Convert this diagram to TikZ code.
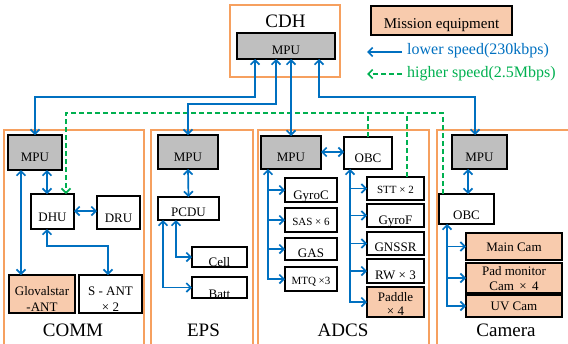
\documentclass[tikz,border=0pt]{standalone}
\usepackage{fontspec}
\setmainfont{Liberation Serif}
\usetikzlibrary{arrows.meta,fit}
\definecolor{busblue}{RGB}{0,112,192}
\definecolor{linkgreen}{RGB}{0,176,80}
\definecolor{frameorange}{RGB}{246,160,95}
\definecolor{peach}{RGB}{248,203,173}
\definecolor{mpugray}{RGB}{191,191,191}
% put the baseline of #2 at #1 below the node centre
\newcommand\lowered[2]{\raisebox{-#1}[0pt][0pt]{#2}}
\newcommand\twolines[2]{\begin{tabular}[b]{@{}c@{}}#1\\#2\end{tabular}}
\begin{document}
\begin{tikzpicture}[x=1pt,y=-1pt,
  >={Straight Barb[length=4.5pt,width=9pt]},
  unit/.style={draw=black, line width=1.4pt, inner sep=0pt, outer sep=0pt,
    fill=white, font=\fontsize{13}{15.7}\selectfont},
  mpu/.style={unit, fill=mpugray},
  payload/.style={unit, fill=peach},
  smalltext/.style={font=\fontsize{11}{13}\selectfont},
  frame/.style={draw=frameorange, line width=1.5pt},
  title/.style={anchor=base, inner sep=0pt, font=\fontsize{19}{22}\selectfont},
  bus/.style={draw=busblue, line width=1.7pt},
  fast/.style={draw=linkgreen, line width=1.7pt, dash pattern=on 5pt off 3pt}]
\useasboundingbox (0,0) rectangle (568,343);

% subsystem frames
\draw[frame] (230,5) rectangle (340,77);
\draw[frame] (4,346) |- (144,130) -- (144,346);
\draw[frame] (151,346) |- (253,130) -- (253,346);
\draw[frame] (258,346) |- (429,130) -- (429,346);
\draw[frame] (437,346) |- (574,130);

\node[title] (cdh) at (285.5,27) {CDH};
\node[title] (comm) at (73,336.5) {COMM};
\node[title] (eps) at (203.5,336.5) {EPS};
\node[title] (adcs) at (343,336.5) {ADCS};
\node[title] (camera) at (506,336.5) {Camera};

% CDH
\node[mpu, fit={(237,33) (335,59)}] (cdhmpu) {\lowered{8pt}{MPU}};

% COMM
\node[mpu, fit={(8,135) (62,170)}] (commmpu) {\lowered{8.5pt}{MPU}};
\node[unit, fit={(31,194) (74,229)}] (dhu) {\lowered{10pt}{DHU}};
\node[unit, fit={(97,196) (140,229)}] (dru) {\lowered{10pt}{DRU}};
\node[payload, fit={(9,275) (75,313)}] (glova) {\lowered{17.5pt}{\twolines{Glovalstar}{-ANT}}};
\node[unit, fit={(79,275) (142,313)}] (sant) {\lowered{17pt}{\twolines{S - ANT}{×\ 2}}};

% EPS
\node[mpu, fit={(158,135) (218,169)}] (epsmpu) {\lowered{9.5pt}{MPU}};
\node[unit, fit={(158,197) (219,220)}] (pcdu) {\lowered{8pt}{PCDU}};
\node[unit, fit={(192,247) (247,267)}] (cell) {\lowered{9.5pt}{Cell}};
\node[unit, fit={(192,277) (247,298)}] (batt) {\lowered{10.5pt}{Batt}};

% ADCS
\node[mpu, fit={(261,136) (321,169)}] (adcsmpu) {\lowered{9pt}{MPU}};
\node[unit, fit={(344,137) (392,169)}] (adcsobc) {\lowered{9.5pt}{OBC}};
\node[unit, fit={(285,178) (337,202)}] (gyroc) {\lowered{9pt}{GyroC}};
\node[unit, smalltext, fit={(285,208) (337,232)}] (sas) {\lowered{5pt}{SAS × 6}};
\node[unit, fit={(285,238) (337,260)}] (gas) {\lowered{8pt}{GAS}};
\node[unit, smalltext, fit={(285,267) (337,291)}] (mtq) {\lowered{5pt}{MTQ ×3}};
\node[unit, smalltext, fit={(367,177) (424,200)}] (stt) {\lowered{4.5pt}{STT × 2}};
\node[unit, fit={(367,204) (424,227)}] (gyrof) {\lowered{8.5pt}{GyroF}};
\node[unit, fit={(367,232) (424,255)}] (gnssr) {\lowered{8pt}{GNSSR}};
\node[unit, fit={(367,259) (424,283)}] (rw) {\lowered{8pt}{RW × 3}};
\node[payload, font=\fontsize{13}{13.3}\selectfont, fit={(367,287) (424,317)}] (paddle) {\lowered{13pt}{\twolines{Paddle}{× 4}}};

% Camera
\node[mpu, fit={(452,135) (507,169)}] (cammpu) {\lowered{9pt}{MPU}};
\node[unit, fit={(439,194) (494,224)}] (camobc) {\lowered{10pt}{OBC}};
\node[payload, fit={(466,233) (562,260)}] (maincam) {\lowered{5pt}{Main Cam}};
\node[payload, fit={(466,263) (562,293)}] (padcam) {\lowered{12.7pt}{\twolines{Pad monitor}{Cam \,× \,4}}};
\node[payload, fit={(466,295) (562,317)}] (uvcam) {\lowered{4pt}{UV Cam}};

% legend
\node[payload, font=\fontsize{15}{18}\selectfont, fit={(371,6) (512,35)}] (mission) {\lowered{7.5pt}{Mission equipment}};
\node[anchor=base west, inner sep=0pt, text=busblue, font=\fontsize{16}{19}\selectfont] (lowlbl) at (407,54) {lower speed(230kbps)};
\node[anchor=base west, inner sep=0pt, text=linkgreen, font=\fontsize{16}{19}\selectfont] (highlbl) at (407,77) {higher speed(2.5Mbps)};
\coordinate (lowtail) at (402,52);
\coordinate (lowtip) at (367,52);
\coordinate (hightail) at (402,74);
\coordinate (hightip) at (367,74);
\draw[bus,->] (lowtail) -- (lowtip);
\draw[fast,->] (hightail) -- (hightip);

% high speed links
\draw[fast,->] (camobc.north -| 443,0) |- (66,113) -- (dhu.north -| 66,0);
\draw[fast] (adcsobc.north) -- (adcsobc.north |- 0,113);
\draw[fast] (stt.north -| 407,0) -- (407,113);

% low speed bus to CDH
\draw[bus,<->] (commmpu.north) |- (255,97) -- (cdhmpu.south -| 255,0);
\draw[bus,<->] (epsmpu.north) |- (276,104) -- (cdhmpu.south -| 276,0);
\draw[bus,<->] (adcsmpu.north) -- (cdhmpu.south -| adcsmpu.north);
\draw[bus,<->] (cammpu.north -| 475,0) |- (319,97) -- (cdhmpu.south -| 319,0);

% COMM links
\draw[bus,<->] (commmpu.south -| 47,0) -- (dhu.north -| 47,0);
\draw[bus,<->] (dhu.east |- 0,211) -- (dru.west |- 0,211);
\draw[bus,<->] (commmpu.south -| 21,0) -- (glova.north -| 21,0);
\draw[bus,<->] (dhu.south -| 47,0) |- (108,246) -- (sant.north -| 108,0);

% EPS links
\draw[bus,<->] (epsmpu.south) -- (pcdu.north);
\draw[bus,<->] (pcdu.south -| 176,0) |- (cell.west);
\draw[bus,<->] (pcdu.south -| 163,0) |- (batt.west);

% ADCS links
\draw[bus,<->] (adcsmpu.east |- 0,152) -- (adcsobc.west |- 0,152);
\draw[bus,<->] (adcsmpu.south -| 268,0) |- (mtq.west);
\foreach \b in {gyroc,sas,gas} \draw[bus,->] (\b.west -| 268,0) -- (\b.west);
\draw[bus,<->] (adcsobc.south -| 350,0) |- (paddle.west);
\foreach \b in {stt,gyrof,gnssr,rw} \draw[bus,->] (\b.west -| 350,0) -- (\b.west);

% Camera links
\draw[bus,<->] (cammpu.south -| 468,0) -- (camobc.north -| 468,0);
\draw[bus,<->] (camobc.south -| 447,0) |- (uvcam.west);
\foreach \b in {maincam,padcam} \draw[bus,->] (\b.west -| 447,0) -- (\b.west);
\end{tikzpicture}
\end{document}
